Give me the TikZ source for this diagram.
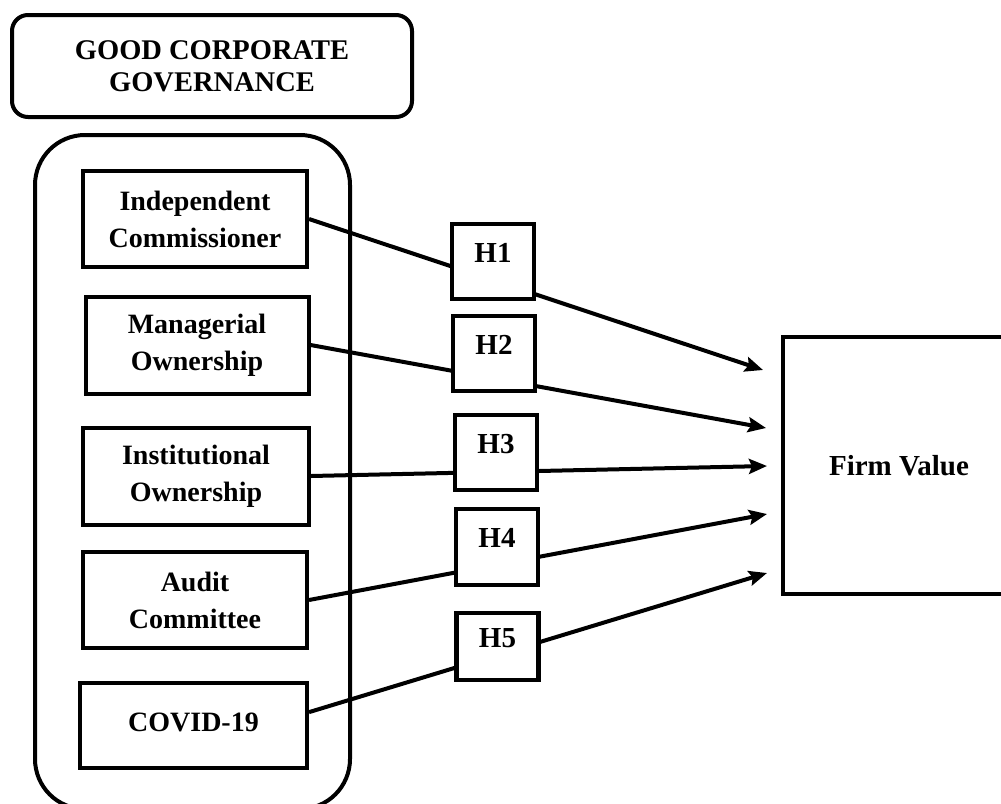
\documentclass[tikz,border=0pt]{standalone}
\usepackage{fontspec}
\setmainfont{Liberation Serif}
\usetikzlibrary{arrows.meta,calc}
\begin{document}
\begin{tikzpicture}[x=1pt,y=-1pt,
  frame/.style={draw,line width=4pt,inner sep=0pt,align=center},
  titlebox/.style={frame,rounded corners=16pt,font=\fontsize{28.5}{32}\selectfont\bfseries},
  groupbox/.style={frame,rounded corners=50pt},
  varbox/.style={frame,font=\fontsize{28}{37}\selectfont\bfseries},
  hbox/.style={draw,line width=4.5pt,fill=white,inner sep=0pt,minimum width=82pt,
    text height=19pt,text depth=18pt,font=\fontsize{29}{30}\selectfont\bfseries},
  valbox/.style={frame,font=\fontsize{29}{30}\selectfont\bfseries},
  conn/.style={line width=4pt,-{Stealth[length=18pt,width=15pt,inset=3pt]}}]
\useasboundingbox (0,0) rectangle (1001,803);
\fill[white] (0,0) rectangle (1001,803);
\clip (0,0) rectangle (1001,803);

% title and group
\node[titlebox,minimum width=400pt,minimum height=102pt] (title) at (212,66)
  {GOOD CORPORATE\\GOVERNANCE};
\node[groupbox,minimum width=315pt,minimum height=674pt] (grp) at (192.5,472) {};

% variables
\node[varbox,minimum width=224pt,minimum height=96pt] (ic) at (195,219)
  {Independent\\Commissioner};
\node[varbox,minimum width=223pt,minimum height=97pt] (mo) at (197,345)
  {Managerial\\Ownership};
\node[varbox,minimum width=226pt,minimum height=97pt] (io) at (196,476)
  {Institutional\\Ownership};
\node[varbox,minimum width=224pt,minimum height=96pt] (ac) at (195,600)
  {Audit\\Committee};
\node[varbox,minimum width=227pt,minimum height=85pt] (cv) at (193.5,725.5)
  {\raisebox{7pt}{COVID-19}};
\coordinate (cvo) at ($(cv.north east)!0.35!(cv.south east)$);

% dependent variable
\node[valbox,minimum width=232pt,minimum height=257pt] (fv) at (899,465.5) {Firm Value};

% arrow tips
\coordinate (t1) at (763,370);
\coordinate (t2) at (766,428);
\coordinate (t3) at (767,466);
\coordinate (t4) at (767,514);
\coordinate (t5) at (767,573);

\draw[conn] (ic.east) -- (t1);
\draw[conn] (mo.east) -- (t2);
\draw[conn] (io.east) -- (t3);
\draw[conn] (ac.east) -- (t4);
\draw[conn] (cvo) -- (t5);

% hypotheses
\node[hbox,minimum height=75pt] (h1) at (493,261.5) {H1};
\node[hbox,minimum height=75pt] (h2) at (494,353.5) {H2};
\node[hbox,minimum height=75pt] (h3) at (496,452.5) {H3};
\node[hbox,minimum height=76pt] (h4) at (497,547) {H4};
\node[hbox,minimum height=67pt] (h5) at (497.5,646.5) {H5};
\end{tikzpicture}
\end{document}
